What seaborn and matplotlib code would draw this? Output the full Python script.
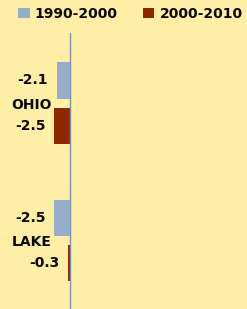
"""
Population change by county, two decades, horizontal grouped bars
"""

import matplotlib.pyplot as plt
import pandas as pd
import seaborn as sns
from matplotlib.patches import Patch

counties = ["OHIO", "LAKE"]
periods = ["1990-2000", "2000-2010"]
change_1990_2000 = [-2.1, -2.5]
change_2000_2010 = [-2.5, -0.3]

BG = "#FFEEA6"
COLORS = ["#97AECB", "#8B2800"]
TEXT = "#0A0A0A"

df = pd.DataFrame(
    {
        "county": counties * 2,
        "period": [periods[0]] * 2 + [periods[1]] * 2,
        "change": change_1990_2000 + change_2000_2010,
    }
)

sns.set_style("white")
plt.rcParams["font.family"] = ["DejaVu Sans"]

fig = plt.figure(figsize=(2.47, 3.09), dpi=100, facecolor=BG)
ax = fig.add_axes([0, 0, 1, 276 / 309])
ax.set_facecolor(BG)

sns.barplot(
    data=df, x="change", y="county", hue="period", palette=COLORS,
    orient="h", width=0.657, gap=0.2, legend=False, ax=ax, saturation=1,
    edgecolor="none", linewidth=0,
)

for container in ax.containers:
    ax.bar_label(container, fmt="%.1f", padding=6, fontsize=10,
                 fontweight="bold", color=TEXT)

# spine position first: moving it resets the tick labels
for side in ["top", "right", "bottom"]:
    ax.spines[side].set_visible(False)
ax.spines["left"].set_position(("data", 0))
ax.spines["left"].set_color("#7F8FA8")
ax.spines["left"].set_linewidth(1)

ax.set_xlim(-70 / 6.4, 177 / 6.4)
ax.set_ylim(1.5, -0.51)
ax.set_xlabel("")
ax.set_ylabel("")
ax.set_xticks([])
ax.set_yticks(range(len(counties)), counties, fontweight="bold",
              fontsize=10, color=TEXT)
ax.tick_params(axis="y", length=0, pad=13)

handles = [Patch(facecolor=c, edgecolor="none") for c in COLORS]
fig.legend(
    handles, periods, loc="center", bbox_to_anchor=(130.5 / 247, 1 - 14 / 309),
    ncol=2, frameon=False, handlelength=0.8, handleheight=0.8,
    handletextpad=0.36, columnspacing=1.85,
    prop={"weight": "bold", "size": 10},
)
for t in fig.legends[0].get_texts():
    t.set_color(TEXT)

fig.savefig("out.png", dpi=100, facecolor=BG)
plt.close(fig)
